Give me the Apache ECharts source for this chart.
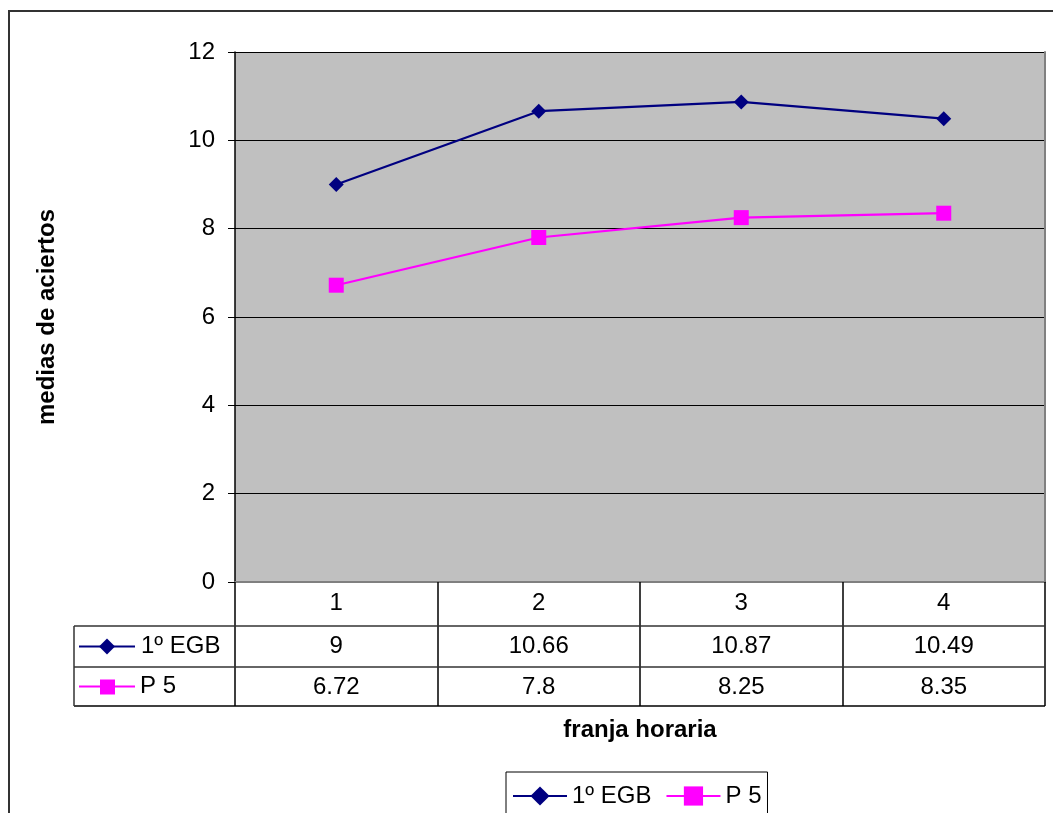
<!DOCTYPE html>
<html>
<head>
<meta charset="utf-8">
<script src="https://cdn.jsdelivr.net/npm/echarts@6/dist/echarts.min.js"></script>
<style>
html,body{margin:0;padding:0;background:#fff;}
#main{width:1053px;height:813px;}
</style>
</head>
<body>
<div id="main"></div>
<script>
const categories = ['1', '2', '3', '4'];
const seriesNames = ['1º EGB', 'P 5'];
const egbValues = [9, 10.66, 10.87, 10.49];
const p5Values = [6.72, 7.8, 8.25, 8.35];
const yMin = 0, yMax = 12, yInterval = 2;

const FONT = 'Liberation Sans, Arial, sans-serif';
const NAVY = '#000080', MAGENTA = '#FF00FF';

const chart = echarts.init(document.getElementById('main'), null, {renderer: 'canvas'});

function rowAxis(values, offset) {
  return {
    type: 'category', data: categories, position: 'bottom', offset: offset,
    gridIndex: 0, boundaryGap: true,
    axisLine: {show: false}, axisTick: {show: false}, splitLine: {show: false},
    axisLabel: {show: true, margin: 8, fontSize: 24, color: '#000', fontFamily: FONT,
      formatter: (v, i) => String(values[i])}
  };
}

const option = {
  backgroundColor: '#fff',
  animation: false,
  grid: {left: 235, right: 8, top: 52, bottom: 231, show: true, backgroundColor: '#C0C0C0', borderWidth: 0},
  legend: {
    data: seriesNames, left: 506, top: 772, orient: 'horizontal',
    borderColor: '#000', borderWidth: 1, padding: [12, 6, 12, 6],
    itemWidth: 54, itemHeight: 24, itemGap: 14,
    textStyle: {fontSize: 24, color: '#000', fontFamily: FONT}
  },
  xAxis: [
    {
      type: 'category', data: categories, position: 'bottom', boundaryGap: true,
      name: 'franja horaria', nameLocation: 'middle', nameGap: 136,
      nameTextStyle: {fontSize: 24, fontWeight: 'bold', color: '#000', fontFamily: FONT},
      axisLine: {show: true, lineStyle: {color: '#000', width: 1.5}},
      axisTick: {show: true, length: 124, interval: 0, lineStyle: {color: '#000', width: 1.5}},
      axisLabel: {show: true, margin: 9, fontSize: 24, color: '#000', fontFamily: FONT, interval: 0},
      splitLine: {show: false}
    },
    {
      type: 'category', data: categories, position: 'top', boundaryGap: true,
      axisLine: {show: true, lineStyle: {color: '#808080', width: 2}},
      axisTick: {show: false}, axisLabel: {show: false}, splitLine: {show: false}
    },
    rowAxis(egbValues, 44),
    rowAxis(p5Values, 85)
  ],
  yAxis: [
    {
      type: 'value', min: yMin, max: yMax, interval: yInterval, position: 'left',
      name: 'medias de aciertos', nameLocation: 'middle', nameRotate: 90, nameGap: 176,
      nameTextStyle: {fontSize: 24, fontWeight: 'bold', color: '#000', fontFamily: FONT},
      axisLine: {show: true, lineStyle: {color: '#000', width: 1.5}},
      axisTick: {show: true, length: 7, lineStyle: {color: '#000'}},
      axisLabel: {margin: 20, fontSize: 24, color: '#000', fontFamily: FONT},
      splitLine: {show: true, lineStyle: {color: '#000', width: 1}}
    },
    {
      type: 'value', min: yMin, max: yMax, interval: yInterval, position: 'right',
      axisLine: {show: true, lineStyle: {color: '#808080', width: 2}},
      axisTick: {show: false}, axisLabel: {show: false}, splitLine: {show: false}
    }
  ],
  series: [
    {
      name: seriesNames[0], type: 'line', data: egbValues, xAxisIndex: 0, yAxisIndex: 0,
      symbol: 'diamond', symbolSize: 15,
      lineStyle: {color: NAVY, width: 2.2}, itemStyle: {color: NAVY}, z: 5
    },
    {
      name: seriesNames[1], type: 'line', data: p5Values, xAxisIndex: 0, yAxisIndex: 0,
      symbol: 'rect', symbolSize: 15,
      lineStyle: {color: MAGENTA, width: 2.2}, itemStyle: {color: MAGENTA}, z: 5
    }
  ]
};
chart.setOption(option);

// Table frame and row headers, placed from the grid's own scale
const leftX = 74;
const x0 = chart.convertToPixel({xAxisIndex: 0}, categories[0]);
const x1 = chart.convertToPixel({xAxisIndex: 0}, categories[1]);
const halfBand = (x1 - x0) / 2;
const gridRight = chart.convertToPixel({xAxisIndex: 0}, categories[categories.length - 1]) + halfBand;
const yZero = chart.convertToPixel({yAxisIndex: 0}, yMin);
const row1Top = yZero + 44, row2Top = yZero + 85, tableBottom = yZero + 124;
const row1Mid = (row1Top + row2Top) / 2, row2Mid = (row2Top + tableBottom) / 2;

function hline(y, color) {
  return {type: 'line', shape: {x1: leftX, y1: y, x2: gridRight, y2: y}, style: {stroke: color, lineWidth: 1.5}, z: 10};
}
const keyX1 = 79, keyX2 = 135, keyMid = 107;
chart.setOption({
  graphic: [
    {type: 'rect', shape: {x: 9, y: 11, width: 2000, height: 2000}, style: {fill: null, stroke: '#333', lineWidth: 2}, z: 1, silent: true},
    hline(row1Top, '#333'), hline(row2Top, '#333'), hline(tableBottom, '#000'),
    {type: 'line', shape: {x1: leftX, y1: row1Top, x2: leftX, y2: tableBottom}, style: {stroke: '#333', lineWidth: 1.5}, z: 10},
    {type: 'line', shape: {x1: keyX1, y1: row1Mid, x2: keyX2, y2: row1Mid}, style: {stroke: NAVY, lineWidth: 2}, z: 10},
    {type: 'polygon', shape: {points: [[keyMid, row1Mid - 8], [keyMid + 8, row1Mid], [keyMid, row1Mid + 8], [keyMid - 8, row1Mid]]}, style: {fill: NAVY}, z: 11},
    {type: 'text', x: 141, y: row1Mid, style: {text: seriesNames[0], font: '24px ' + FONT, fill: '#000', textVerticalAlign: 'middle', verticalAlign: 'middle'}, z: 10},
    {type: 'line', shape: {x1: keyX1, y1: row2Mid, x2: keyX2, y2: row2Mid}, style: {stroke: MAGENTA, lineWidth: 2}, z: 10},
    {type: 'rect', shape: {x: keyMid - 7, y: row2Mid - 7, width: 15, height: 15}, style: {fill: MAGENTA}, z: 11},
    {type: 'text', x: 140, y: row2Mid, style: {text: seriesNames[1], font: '24px ' + FONT, fill: '#000', textVerticalAlign: 'middle', verticalAlign: 'middle'}, z: 10}
  ]
});
</script>
</body>
</html>
